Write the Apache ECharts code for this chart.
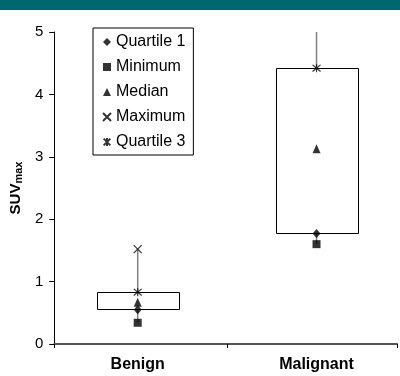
<!DOCTYPE html>
<html><head><meta charset="utf-8">
<script src="https://cdn.jsdelivr.net/npm/echarts@6/dist/echarts.min.js"></script>
<style>html,body{margin:0;padding:0;background:#fff}#c{width:400px;height:376px}</style>
</head><body><div id="c"></div>
<script>
const categories = ['Benign', 'Malignant'];
const quartile1 = [0.55, 1.77];
const minimum = [0.34, 1.60];
const median = [0.67, 3.13];
const maximum = [1.52, 5.30];
const quartile3 = [0.83, 4.42];
const yTicks = [0, 1, 2, 3, 4, 5];

const X_MIN = -0.4667, X_MAX = 1.45;
const FONT = 'Arial, "Liberation Sans", sans-serif';
const crossPath = 'path://M0,0L10,10M10,0L0,10';
const starPath = 'path://M0,0L10,10M10,0L0,10M5,-1L5,11';

const chart = echarts.init(document.getElementById('c'), null, {renderer: 'canvas'});

function renderBox(params, api) {
  const x = api.value(0);
  const pLo = api.coord([x, api.value(1)]);
  const pQ1 = api.coord([x, api.value(2)]);
  const pQ3 = api.coord([x, api.value(3)]);
  const pHi = api.coord([x, api.value(4)]);
  const w = api.size([1, 0])[0] * 0.456;
  return {
    type: 'group',
    children: [
      {type: 'line', shape: {x1: pLo[0], y1: pLo[1], x2: pHi[0], y2: pHi[1]},
       style: {stroke: '#808080', lineWidth: 1.5}},
      {type: 'rect', shape: {x: Math.round(pQ1[0] - w / 2) + 0.5, y: Math.round(pQ3[1]) + 0.5, width: Math.round(w), height: Math.round(pQ1[1] - pQ3[1])},
       style: {fill: '#fff', stroke: '#000', lineWidth: 1}}
    ]
  };
}

const boxData = categories.map((c, i) => [i, minimum[i], quartile1[i], quartile3[i], maximum[i]]);
function pts(arr) { return arr.map((v, i) => [i, v]); }
const markerBase = {type: 'scatter', clip: true, z: 5};

chart.setOption({
  animation: false,
  backgroundColor: '#fff',
  textStyle: {fontFamily: FONT},
  graphic: [
    {type: 'rect', left: 0, top: 0, shape: {width: 400, height: 10}, style: {fill: '#006670'}, z: 100}
  ],
  legend: {
    orient: 'vertical',
    left: 93, top: 28,
    padding: [6, 8, 5, 9],
    itemGap: 9,
    itemWidth: 8, itemHeight: 8,
    borderColor: '#000', borderWidth: 1,
    backgroundColor: '#fff',
    textStyle: {fontSize: 16, color: '#000', fontFamily: FONT},
    data: ['Quartile 1', 'Minimum', 'Median', 'Maximum', 'Quartile 3']
  },
  grid: {left: 52, width: 345, top: 32, bottom: 32},
  xAxis: {
    type: 'value', min: X_MIN, max: X_MAX,
    axisLine: {show: true, onZero: false, lineStyle: {color: '#555', width: 2}},
    axisTick: {show: true, length: 4, lineStyle: {color: '#000', width: 1}, customValues: [X_MIN, 0.5, X_MAX]},
    axisLabel: {show: true, margin: 13, fontSize: 16, fontWeight: 'bold', color: '#000', fontFamily: FONT,
                customValues: categories.map((c, i) => i),
                formatter: v => categories[Math.round(v)]},
    splitLine: {show: false}
  },
  yAxis: {
    type: 'value', min: yTicks[0], max: yTicks[yTicks.length - 1], interval: 1,
    axisLine: {show: true, onZero: false, lineStyle: {color: '#000', width: 1}},
    axisTick: {show: true, length: 5, lineStyle: {color: '#000'}},
    axisLabel: {margin: 11, fontSize: 15, color: '#000', fontFamily: FONT},
    splitLine: {show: false},
    name: '{a|SUV}{b|max}', nameLocation: 'middle', nameRotate: 90, nameGap: 30,
    nameTextStyle: {rich: {
      a: {fontSize: 15, fontWeight: 'bold', color: '#000', fontFamily: FONT},
      b: {fontSize: 11, fontWeight: 'bold', color: '#000', fontFamily: FONT, verticalAlign: 'bottom', padding: [6, 0, 0, 0]}
    }}
  },
  series: [
    {type: 'custom', clip: true, renderItem: renderBox,
     encode: {x: 0, y: [1, 2, 3, 4]}, data: boxData, z: 2, silent: true},
    Object.assign({}, markerBase, {name: 'Quartile 1', symbol: 'diamond', symbolSize: [8, 9],
      itemStyle: {color: '#000'}, data: pts(quartile1)}),
    Object.assign({}, markerBase, {name: 'Minimum', symbol: 'rect', symbolSize: 8,
      itemStyle: {color: '#000'}, data: pts(minimum)}),
    Object.assign({}, markerBase, {name: 'Median', symbol: 'triangle', symbolSize: [8, 9],
      itemStyle: {color: '#000'}, data: pts(median)}),
    Object.assign({}, markerBase, {name: 'Maximum', symbol: crossPath, symbolSize: 8,
      itemStyle: {color: '#000', borderColor: '#000', borderWidth: 1.2}, data: pts(maximum)}),
    Object.assign({}, markerBase, {name: 'Quartile 3', symbol: starPath, symbolSize: 8,
      itemStyle: {color: '#000', borderColor: '#000', borderWidth: 1.2}, data: pts(quartile3)})
  ]
});
</script></body></html>
